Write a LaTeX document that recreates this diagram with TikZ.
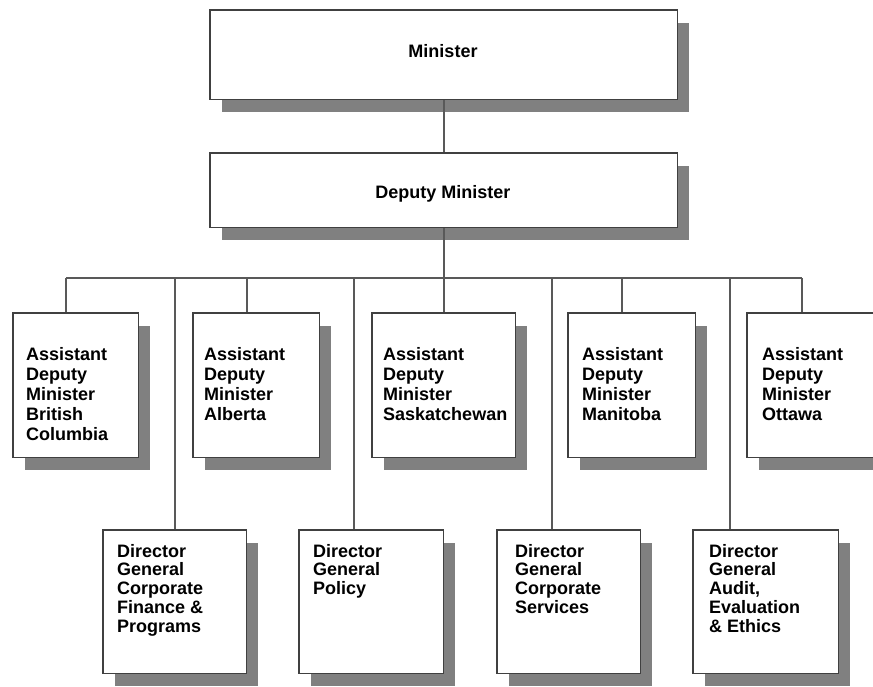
\documentclass[tikz,border=0pt]{standalone}
\usepackage{fontspec}
\setmainfont{Liberation Sans}
\begin{document}
\begin{tikzpicture}[x=1pt,y=-1pt,
  shadowbox/.style={fill=black!50,draw=none},
  orgbox/.style={draw=black!75,line width=1.6pt,fill=white},
  conn/.style={draw=black!65,line width=1.8pt},
  adm/.style={anchor=north west,inner sep=0pt,align=left,font=\bfseries\fontsize{18}{20}\selectfont},
  dg/.style={anchor=north west,inner sep=0pt,align=left,font=\bfseries\fontsize{18}{18.75}\selectfont},
  title/.style={anchor=base,inner sep=0pt,font=\bfseries\fontsize{18}{20}\selectfont}]
\useasboundingbox (0,0) rectangle (873,687);
% shadows
\foreach \a/\b/\c/\d in {210/10/677/99, 210/153/677/227,
  13/313/138/457, 193/313/319/457, 372/313/515/457, 568/313/695/457, 747/313/874/457,
  103/530/246/673, 299/530/443/673, 497/530/640/673, 693/530/838/673}
  \fill[shadowbox] (\a+12,\b+13) rectangle (\c+12,\d+13);
% boxes as nodes (outlines drawn later on top)
\node[inner sep=0pt,minimum width=467pt,minimum height=89pt,anchor=north west] (min) at (210,10) {};
\node[inner sep=0pt,minimum width=467pt,minimum height=74pt,anchor=north west] (dm) at (210,153) {};
\node[inner sep=0pt,minimum width=125pt,minimum height=144pt,anchor=north west] (adm1) at (13,313) {};
\node[inner sep=0pt,minimum width=126pt,minimum height=144pt,anchor=north west] (adm2) at (193,313) {};
\node[inner sep=0pt,minimum width=143pt,minimum height=144pt,anchor=north west] (adm3) at (372,313) {};
\node[inner sep=0pt,minimum width=127pt,minimum height=144pt,anchor=north west] (adm4) at (568,313) {};
\node[inner sep=0pt,minimum width=127pt,minimum height=144pt,anchor=north west] (adm5) at (747,313) {};
\node[inner sep=0pt,minimum width=143pt,minimum height=143pt,anchor=north west] (dg1) at (103,530) {};
\node[inner sep=0pt,minimum width=144pt,minimum height=143pt,anchor=north west] (dg2) at (299,530) {};
\node[inner sep=0pt,minimum width=143pt,minimum height=143pt,anchor=north west] (dg3) at (497,530) {};
\node[inner sep=0pt,minimum width=145pt,minimum height=143pt,anchor=north west] (dg4) at (693,530) {};
% connectors
\coordinate (bL) at (66,278);
\coordinate (bR) at (802,278);
\coordinate (hub) at (dm.south |- bL);
\foreach \x/\n in {175/c1,247/c2,354/c3,552/c5,622/c6,730/c7}
  \coordinate (\n) at (\x,278);
\draw[conn] (min.south) -- (dm.north);
\draw[conn] (dm.south) -- (hub);
\draw[conn] (bL) -- (bR);
\draw[conn] (bL) -- (bL |- adm1.north);
\draw[conn] (c2) -- (c2 |- adm2.north);
\draw[conn] (hub) -- (hub |- adm3.north);
\draw[conn] (c6) -- (c6 |- adm4.north);
\draw[conn] (bR) -- (bR |- adm5.north);
\draw[conn] (c1) -- (c1 |- dg1.north);
\draw[conn] (c3) -- (c3 |- dg2.north);
\draw[conn] (c5) -- (c5 |- dg3.north);
\draw[conn] (c7) -- (c7 |- dg4.north);
% box outlines
\foreach \n in {min,dm,adm1,adm2,adm3,adm4,adm5,dg1,dg2,dg3,dg4}
  \draw[orgbox] (\n.north west) rectangle (\n.south east);
% texts
\node[title] (tmin) at (443,58) {Minister};
\node[title] (tdm) at (443,199) {Deputy Minister};
\node[adm] (tadm1) at (26,347) {Assistant\\Deputy\\Minister\\British\\Columbia};
\node[adm] (tadm2) at (204,347) {Assistant\\Deputy\\Minister\\Alberta};
\node[adm] (tadm3) at (383,347) {Assistant\\Deputy\\Minister\\Saskatchewan};
\node[adm] (tadm4) at (582,347) {Assistant\\Deputy\\Minister\\Manitoba};
\node[adm] (tadm5) at (762,347) {Assistant\\Deputy\\Minister\\Ottawa};
\node[dg] (tdg1) at (117,544) {Director\\General\\Corporate\\Finance \&\\Programs};
\node[dg] (tdg2) at (313,544) {Director\\General\\Policy};
\node[dg] (tdg3) at (515,544) {Director\\General\\Corporate\\Services};
\node[dg] (tdg4) at (709,544) {Director\\General\\Audit,\\Evaluation\\\& Ethics};
\end{tikzpicture}
\end{document}
